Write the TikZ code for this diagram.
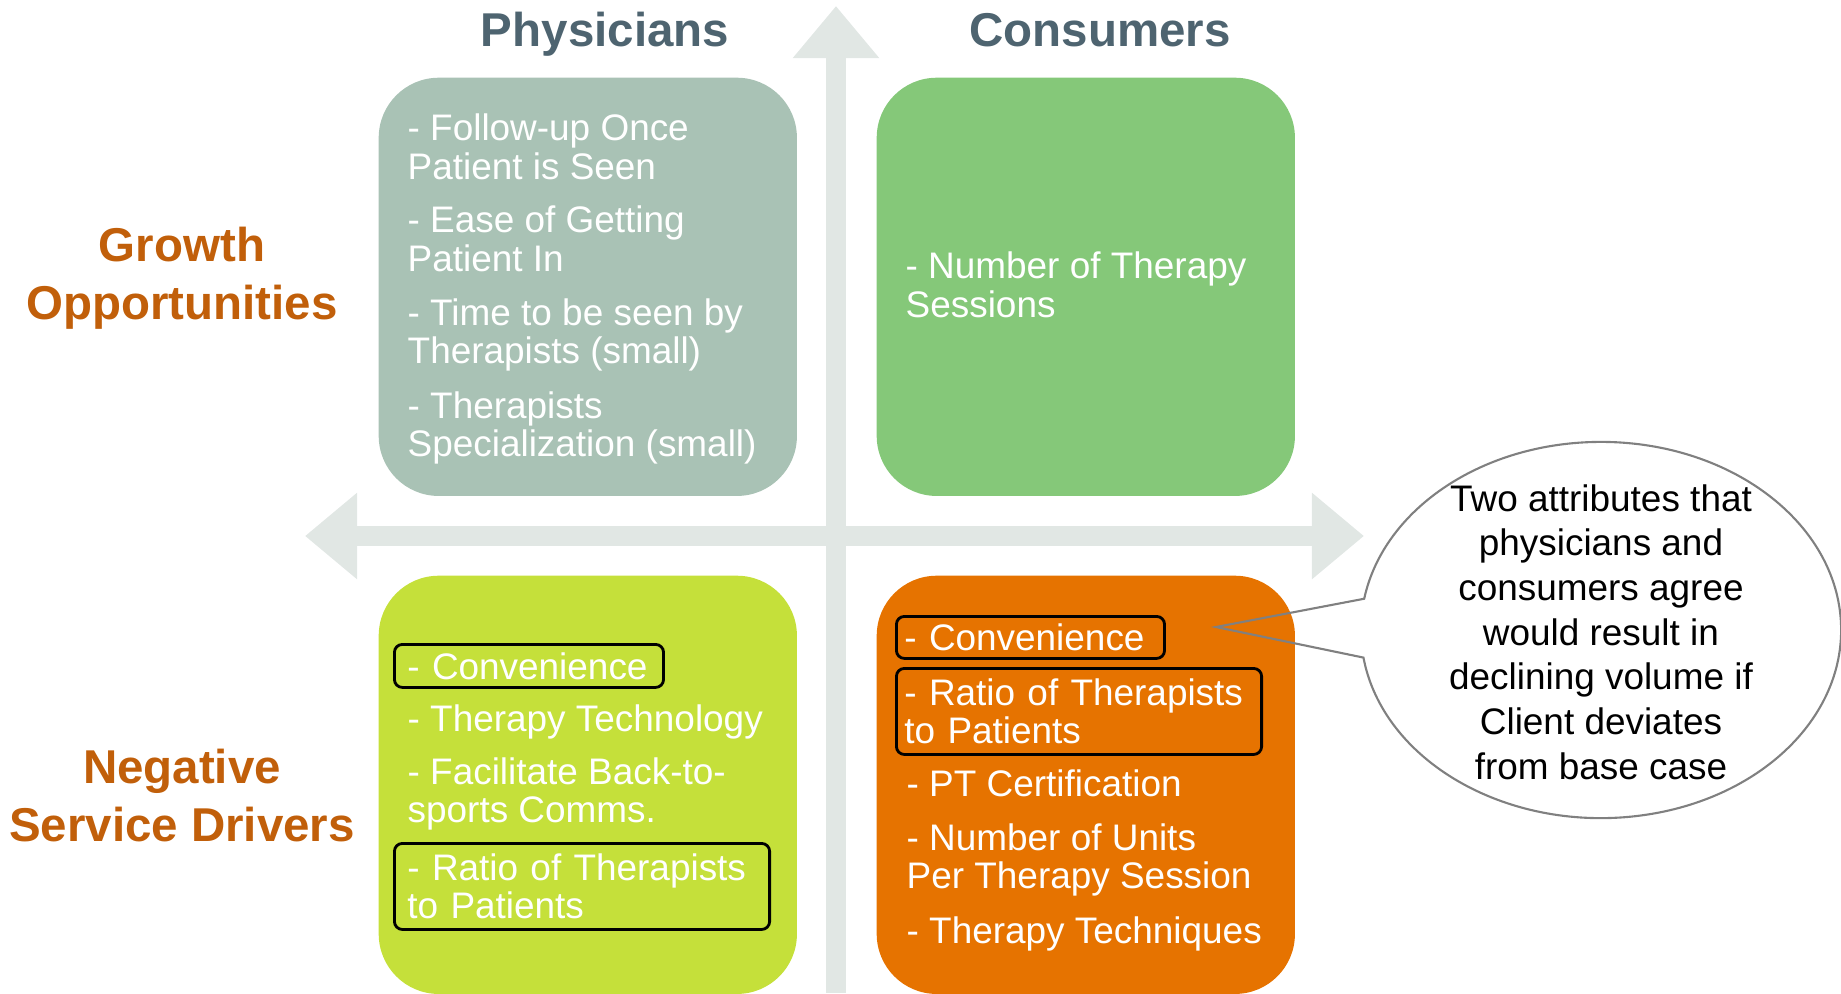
\documentclass[tikz,border=0pt]{standalone}
\usepackage{fontspec}
\setmainfont{Liberation Sans}
\usetikzlibrary{arrows.meta,shapes.callouts}

\definecolor{axisgrey}{HTML}{E1E7E4}
\definecolor{physgrey}{HTML}{A9C2B5}
\definecolor{consgreen}{HTML}{85C879}
\definecolor{physlime}{HTML}{C5E03A}
\definecolor{consorange}{HTML}{E67300}
\definecolor{headslate}{HTML}{4E6470}
\definecolor{rowbrown}{HTML}{C15F0A}
\definecolor{notegrey}{HTML}{808080}

\newcommand{\itemfont}{\fontsize{10.5}{11}\selectfont}
\newcommand{\notefont}{\fontsize{10.5}{12.7}\selectfont}
\newcommand{\headfont}{\fontsize{13.5}{16.5}\selectfont\bfseries}

\tikzset{
  axis/.style={draw=axisgrey, line width=0.2cm},
  quad/.style={rounded corners=0.6cm, minimum width=4.18cm, minimum height=4.18cm, inner sep=0, anchor=north west},
  item/.style={text=white, font=\itemfont, align=left, anchor=west, inner sep=0},
  hilite/.style={draw=black, text=white, font=\itemfont, align=left, line width=0.8pt, rounded corners=0.08cm, inner xsep=0.13cm, inner ysep=0, anchor=north west},
  head/.style={text=headslate, font=\headfont, anchor=base},
  rowlabel/.style={text=rowbrown, font=\headfont, align=center},
  note/.style={ellipse callout, draw=notegrey, line width=0.6pt, minimum width=4.8cm, minimum height=3.76cm, inner sep=0, callout pointer arc=18},
}

\begin{document}
\begin{tikzpicture}[x=0.01cm, y=-0.01cm, >={Triangle[width=0.83cm,length=0.52cm]}]
    \useasboundingbox (0,0) rectangle (1841,993);

    % axes
    \coordinate (ytop) at (836,6);
    \coordinate (ybot) at (836,993);
    \coordinate (xleft) at (305,536);
    \coordinate (xright) at (1364,536);
    \draw[axis,->] (ybot) -- (ytop);
    \draw[axis,<->] (xleft) -- (xright);

    % quadrants
    \node[quad, fill=physgrey] (growphys) at (378,77) {};
    \node[quad, fill=consgreen] (growcons) at (876,77) {};
    \node[quad, fill=physlime] (negphys) at (378,575) {};
    \node[quad, fill=consorange] (negcons) at (876,575) {};

    \node[head] (physhead) at (605,46) {Physicians};
    \node[head] (conshead) at (1100,46) {Consumers};
    \node[rowlabel] (growrow) at (182,278) {Growth\\Opportunities};
    \node[rowlabel] (negrow) at (182,796) {Negative\\Service Drivers};

    % growth, physicians
    \node[item] (gp1) at (407,147) {- Follow-up Once\\Patient is Seen};
    \node[item] (gp2) at (407,239) {- Ease of Getting\\Patient In};
    \node[item] (gp3) at (407,335) {- Time to be seen by\\Therapists (small)};
    \node[item] (gp4) at (407,428) {- Therapists\\Specialization (small)};

    % growth, consumers
    \node[item] (gc1) at (905,285) {- Number of Therapy\\Sessions};

    % negative, physicians
    \node[hilite, text width=2.43cm, minimum height=0.43cm] (np1) at (393,643) {- Convenience};
    \node[item] (np2) at (407,722) {- Therapy Technology};
    \node[item] (np3) at (407,794) {- Facilitate Back-to-\\sports Comms.};
    \node[hilite, text width=3.49cm, minimum height=0.86cm] (np4) at (393,842) {- Ratio of Therapists\\to Patients};

    % negative, consumers
    \node[hilite, inner xsep=0.08cm, text width=2.52cm, minimum height=0.42cm] (nc1) at (895,615) {- Convenience};
    \node[hilite, inner xsep=0.08cm, text width=3.49cm, minimum height=0.86cm] (nc2) at (895,667) {- Ratio of Therapists\\to Patients};
    \node[item] (nc3) at (906,783) {- PT Certification};
    \node[item] (nc4) at (906,860) {- Number of Units\\Per Therapy Session};
    \node[item] (nc5) at (906,934) {- Therapy Techniques};

    % callout
    \coordinate (tip) at (1216,627);
    \node[note, callout absolute pointer={(tip)}] (callout) at (1601,630) {};
    \node[font=\notefont, align=center, inner sep=0] (notetext) at (1601,632) {Two attributes that\\physicians and\\consumers agree\\would result in\\declining volume if\\Client deviates\\from base case};
\end{tikzpicture}
\end{document}
